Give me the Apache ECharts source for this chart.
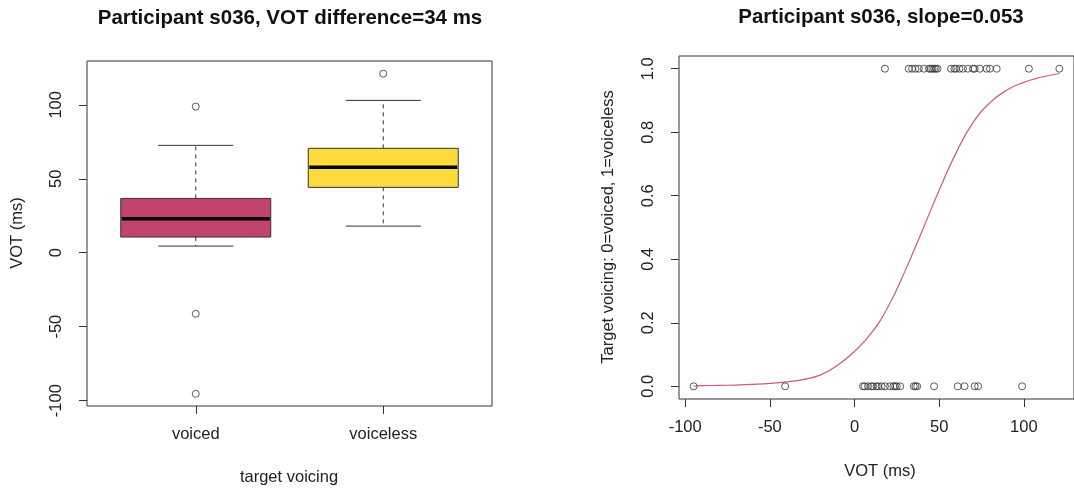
<!DOCTYPE html>
<html>
<head>
<meta charset="utf-8">
<script src="https://cdn.jsdelivr.net/npm/echarts@6/dist/echarts.min.js"></script>
<style>
html,body{margin:0;padding:0;background:#fff;}
#chart{width:1074px;height:491px;}
</style>
</head>
<body>
<div id="chart"></div>
<script>
// ---- data ----
const categories = ['voiced', 'voiceless'];
const boxColors = ['#C0446E', '#FDDB3C'];
// boxplot statistics (lower whisker, Q1, median, Q3, upper whisker)
const whiskerLow = [4.5, 18];
const quart1 = [10.6, 44.2];
const medians = [23, 57.8];
const quart3 = [36.7, 70.6];
const whiskerHigh = [72.6, 103];
const outliersVoiced = [98.8, -41.3, -95.4];
const outliersVoiceless = [121.1];
// VOT values of the tokens (right panel)
const votVoiced = [-95, -41, 5, 6, 8, 10, 11, 13, 14, 16, 18, 21, 23, 24, 25, 27, 35, 36, 37, 47, 61, 65, 71, 73, 99];
const votVoiceless = [18, 32, 34, 36, 38, 41, 44, 45, 46, 47, 48, 49, 57, 59, 60, 62, 64, 67, 70, 71, 74, 78, 80, 84, 103, 121];
// fitted curve
const curveX = [-95, -90, -80, -70, -60, -50, -40, -30, -20, -10, 0, 10, 20, 30, 40, 50, 60, 70, 80, 90, 100, 110, 121];
const curveY = [0.001, 0.002, 0.003, 0.004, 0.006, 0.009, 0.014, 0.022, 0.036, 0.066, 0.11, 0.168, 0.252, 0.365, 0.49, 0.617, 0.735, 0.83, 0.893, 0.933, 0.957, 0.973, 0.985];
const leftYTicks = [-100, -50, 0, 50, 100];
const rightXTicks = [-100, -50, 0, 50, 100];
const rightYTicks = [0, 0.2, 0.4, 0.6, 0.8, 1.0];

const FONT = 'Liberation Sans, Arial, sans-serif';
const TXT = '#222';
const FS = 16.5;

const boxData = categories.map((c, i) => [i + 1, whiskerLow[i], quart1[i], medians[i], quart3[i], whiskerHigh[i]]);
const outlierData = outliersVoiced.map(v => [1, v]).concat(outliersVoiceless.map(v => [2, v]));
const ptsVoiced = votVoiced.map(v => [v, 0]);
const ptsVoiceless = votVoiceless.map(v => [v, 1]);
const curveData = curveX.map((x, i) => [x, curveY[i]]);

const chart = echarts.init(document.getElementById('chart'), null, {renderer: 'canvas'});

function mkAxis(extra, ticks, labelExtra) {
  return Object.assign({
    type: 'value',
    axisLine: {show: false, onZero: false},
    splitLine: {show: false},
    axisTick: {show: true, length: 8, customValues: ticks, lineStyle: {color: '#333', width: 1}},
    axisLabel: Object.assign({customValues: ticks, color: TXT, fontSize: FS, fontFamily: FONT}, labelExtra)
  }, extra);
}

const circleStyle = {color: 'rgba(0,0,0,0)', borderColor: '#333', borderWidth: 1};

const option = {
  animation: false,
  backgroundColor: '#fff',
  grid: [
    {left: 87, top: 61, width: 405, height: 345, show: true, borderColor: '#333', borderWidth: 1, backgroundColor: 'transparent'},
    {left: 679, top: 56, width: 404, height: 343, show: true, borderColor: '#333', borderWidth: 1, backgroundColor: 'transparent'}
  ],
  xAxis: [
    mkAxis({gridIndex: 0, min: 0.42, max: 2.58}, [1, 2], {formatter: v => categories[Math.round(v) - 1], margin: 20}),
    mkAxis({gridIndex: 1, min: -103.64, max: 129.64}, rightXTicks, {margin: 20})
  ],
  yAxis: [
    mkAxis({gridIndex: 0, min: -103.64, max: 129.64}, leftYTicks, {rotate: 90, margin: 22}),
    mkAxis({gridIndex: 1, min: -0.04, max: 1.04}, rightYTicks, {rotate: 90, margin: 22, formatter: v => v.toFixed(1)})
  ],
  graphic: [
    {type: 'text', x: 290, y: 18, style: {text: 'Participant s036, VOT difference=34 ms', font: 'bold 20.5px ' + FONT, fill: '#111', textAlign: 'center', textVerticalAlign: 'middle'}},
    {type: 'text', x: 881, y: 17, style: {text: 'Participant s036, slope=0.053', font: 'bold 20.5px ' + FONT, fill: '#111', textAlign: 'center', textVerticalAlign: 'middle'}},
    {type: 'text', x: 289, y: 477, style: {text: 'target voicing', font: FS + 'px ' + FONT, fill: TXT, textAlign: 'center', textVerticalAlign: 'middle'}},
    {type: 'text', x: 17, y: 233, rotation: Math.PI / 2, style: {text: 'VOT (ms)', font: FS + 'px ' + FONT, fill: TXT, textAlign: 'center', textVerticalAlign: 'middle'}},
    {type: 'text', x: 880, y: 471, style: {text: 'VOT (ms)', font: FS + 'px ' + FONT, fill: TXT, textAlign: 'center', textVerticalAlign: 'middle'}},
    {type: 'text', x: 608, y: 227, rotation: Math.PI / 2, style: {text: 'Target voicing: 0=voiced, 1=voiceless', font: FS + 'px ' + FONT, fill: TXT, textAlign: 'center', textVerticalAlign: 'middle'}}
  ],
  series: [
    {
      type: 'custom', xAxisIndex: 0, yAxisIndex: 0,
      data: boxData,
      encode: {x: 0, y: [1, 2, 3, 4, 5]},
      renderItem: function (params, api) {
        const x = api.value(0);
        const lo = api.value(1), q1 = api.value(2), md = api.value(3), q3 = api.value(4), hi = api.value(5);
        const c = (a, b) => api.coord([a, b]);
        const xl = c(x - 0.4, q3)[0], xr = c(x + 0.4, q3)[0];
        const xc = c(x, lo)[0];
        const cl = c(x - 0.2, lo)[0], cr = c(x + 0.2, lo)[0];
        const yLo = c(x, lo)[1], yQ1 = c(x, q1)[1], yMd = c(x, md)[1], yQ3 = c(x, q3)[1], yHi = c(x, hi)[1];
        const dashed = {stroke: '#333', lineWidth: 1, lineDash: [4, 4]};
        const solid = {stroke: '#333', lineWidth: 1};
        return {
          type: 'group',
          children: [
            {type: 'line', shape: {x1: xc, y1: yQ3, x2: xc, y2: yHi}, style: dashed},
            {type: 'line', shape: {x1: xc, y1: yQ1, x2: xc, y2: yLo}, style: dashed},
            {type: 'line', shape: {x1: cl, y1: yHi, x2: cr, y2: yHi}, style: solid},
            {type: 'line', shape: {x1: cl, y1: yLo, x2: cr, y2: yLo}, style: solid},
            {type: 'rect', shape: {x: xl, y: yQ3, width: xr - xl, height: yQ1 - yQ3}, style: {fill: boxColors[params.dataIndex], stroke: '#333', lineWidth: 1}},
            {type: 'line', shape: {x1: xl + 1, y1: yMd, x2: xr - 1, y2: yMd}, style: {stroke: '#000', lineWidth: 3.5}}
          ]
        };
      },
      z: 2
    },
    {
      type: 'scatter', xAxisIndex: 0, yAxisIndex: 0, data: outlierData,
      symbol: 'circle', symbolSize: 7, itemStyle: circleStyle, z: 3
    },
    {
      type: 'line', xAxisIndex: 1, yAxisIndex: 1, data: curveData,
      smooth: 0.5, showSymbol: false, lineStyle: {color: '#CC5A84', width: 1.2}, z: 2
    },
    {
      type: 'scatter', xAxisIndex: 1, yAxisIndex: 1, data: ptsVoiced,
      symbol: 'circle', symbolSize: 7, itemStyle: circleStyle, z: 3
    },
    {
      type: 'scatter', xAxisIndex: 1, yAxisIndex: 1, data: ptsVoiceless,
      symbol: 'circle', symbolSize: 7, itemStyle: circleStyle, z: 3
    }
  ]
};
chart.setOption(option);
</script>
</body>
</html>
